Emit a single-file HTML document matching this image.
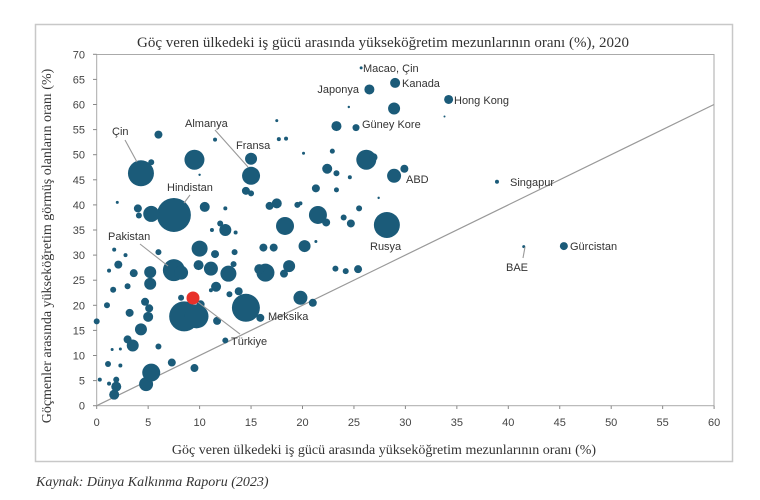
<!DOCTYPE html>
<html><head><meta charset="utf-8"><style>
html,body{margin:0;padding:0;background:#fff}
svg text{font-family:"Liberation Sans",sans-serif}
.s{font-family:"Liberation Serif",serif}
</style></head><body>
<svg id="c" width="760" height="495" xmlns="http://www.w3.org/2000/svg">
<rect x="35.5" y="24.5" width="697" height="437" fill="#fff" stroke="#c8c8c8" stroke-width="1.5"/>
<text class="s" x="383" y="47" text-anchor="middle" font-size="15" fill="#333">Göç veren ülkedeki iş gücü arasında yükseköğretim mezunlarının oranı (%), 2020</text>
<rect x="96.7" y="54.5" width="617.3" height="351.2" fill="none" stroke="#aaa" stroke-width="1"/>
<g id="ticks" font-size="11" fill="#444"></g>
<line x1="96.7" y1="405.7" x2="714" y2="104.5" stroke="#999" stroke-width="1.2"/>
<g id="b" fill="#1b5b79"></g>
<g stroke="#999" stroke-width="1.1">
<line x1="125" y1="140" x2="137" y2="162"/>
<line x1="215" y1="130" x2="248" y2="167"/>
<line x1="190" y1="195" x2="184" y2="203"/>
<line x1="140" y1="244" x2="168" y2="266"/>
<line x1="198" y1="302" x2="240" y2="334"/>
<line x1="523" y1="258" x2="525" y2="247"/>
</g>
<circle cx="193" cy="298" r="6.5" fill="#e8312a"/>
<g font-size="11" fill="#333">
<text x="363" y="72">Macao, Çin</text>
<text x="402" y="87">Kanada</text>
<text x="359" y="93" text-anchor="end">Japonya</text>
<text x="454" y="104">Hong Kong</text>
<text x="362" y="128">Güney Kore</text>
<text x="185" y="127">Almanya</text>
<text x="236" y="149">Fransa</text>
<text x="112" y="135">Çin</text>
<text x="167" y="191">Hindistan</text>
<text x="406" y="183">ABD</text>
<text x="510" y="186">Singapur</text>
<text x="108" y="240">Pakistan</text>
<text x="231" y="345">Türkiye</text>
<text x="268" y="320">Meksika</text>
<text x="370" y="250">Rusya</text>
<text x="506" y="271">BAE</text>
<text x="570" y="250">Gürcistan</text>
</g>
<text class="s" x="384" y="454" text-anchor="middle" font-size="14" fill="#333">Göç veren ülkedeki iş gücü arasında yükseköğretim mezunlarının oranı (%)</text>
<text class="s" transform="translate(51,246) rotate(-90)" text-anchor="middle" font-size="14" fill="#333">Göçmenler arasında yükseköğretim görmüş olanların oranı (%)</text>
<text class="s" x="36" y="486" font-size="14" font-style="italic" fill="#333">Kaynak: Dünya Kalkınma Raporu (2023)</text>
</svg>
<script>
var X=function(x){return 96.7+10.29*x},Y=function(y){return 405.7-5.02*y};
var t='';
for(var i=0;i<=60;i+=5){t+='<text x="'+X(i)+'" y="426" text-anchor="middle">'+i+'</text><line x1="'+X(i)+'" y1="405.7" x2="'+X(i)+'" y2="409" stroke="#888"/>';}
for(var j=0;j<=70;j+=5){t+='<text x="85" y="'+(Y(j)+4)+'" text-anchor="end">'+j+'</text><line x1="93" y1="'+Y(j)+'" x2="96.7" y2="'+Y(j)+'" stroke="#888"/>';}
document.getElementById('ticks').innerHTML=t;
var d=[[4.3,46.3,13],[5.3,48.5,3],[6,54,4],[9.5,49,10],[7.5,38,17],[5.3,38.2,8],[4,39.3,4],[4.1,37.9,3],[2,40.5,1.5],[10.5,39.6,5],[12.5,39.3,2],
[7.5,27,11],[8.2,26.5,7],[8.5,17.8,15],[9.7,17.8,12],[8.2,21.5,3],[10.1,20.2,4],[14.5,19.5,14],[15.9,17.5,4],[4.8,4.3,7],[5.3,6.6,9],
[1.7,2.2,5],[1.9,3.8,5],[1.9,5.2,3],[1.2,4.4,2],[0.3,5.2,2],[2.3,8,2],[1.1,8.3,3],[7.3,8.6,4],[9.5,7.5,4],[3.5,12,6],[3,13.2,4],[4.3,15.2,6],[6,11.8,3],
[3.2,18.5,4],[5,17.7,5],[4.7,20.7,4],[5.1,19.4,4],[0,16.8,3],[1,20,3],[1.6,23.1,3],[3,23.8,3],[5.2,24.3,6],[5.2,26.6,6],[3.6,26.4,4],[2.1,28.1,4],[1.2,26.9,2],[6,30.6,3],[2.8,30,2],[1.7,31.1,2],
[10,31.3,8],[11.5,30.2,4],[13.4,30.6,3],[9.9,28,5],[11.1,27.3,7],[12.8,26.3,8],[13.3,28.2,3],[11.6,23.7,5],[11.1,23,2],[12.9,22.2,3],[13.8,22.8,4],[11.7,16.9,4],[12.5,13,3],
[16.2,31.5,4],[17.2,31.5,4],[20.2,31.8,6],[16.4,26.5,9],[15.8,27.2,5],[18.7,27.8,6],[18.2,26.3,4],[19.8,21.5,7],[21,20.5,4],[23.2,27.3,3],[24.2,26.8,3],[25.4,27.2,4],
[28.2,36,13],[12,36.3,3],[12.5,35,6],[11.2,35,2],[13.5,34.5,2],[18.3,35.8,9],[17.5,40.3,5],[16.8,39.8,4],[19.5,40,3],[21.5,38,9],[22.3,36.5,4],[24,37.5,3],[24.7,36.3,4],[25.5,39.3,3],[21.3,32.7,1.5],
[15,45.8,9],[15,49.2,6],[14.5,42.8,4],[15,42.3,3],[17.5,56.8,1.5],[17.7,53.1,2],[18.4,53.2,2],[20.1,50.3,1.5],[22.4,47.2,5],[23.3,46.3,3],[26.2,49,10],[26.9,49.5,4],[21.3,43.3,4],[23.3,43,2.5],[22.9,50.7,2.5],[23.3,55.7,5],[25.2,55.4,3.5],[24.6,45.5,2],[19.8,40.3,2],
[28.9,59.2,6],[26.5,63,5],[29,64.3,5],[25.7,67.3,1.5],[34.2,61,4.5],[24.5,59.5,1.2],[33.8,57.6,1],[28.9,45.8,7],[29.9,47.2,4],[27.4,41.4,1.2],[38.9,44.6,2],[41.5,31.7,1.5],[45.4,31.8,4],[11.5,53,2],[10,46,1.2],[1.5,11.2,1.5],[2.3,11.3,1.5]];
var h='';d.forEach(function(p){h+='<circle cx="'+X(p[0])+'" cy="'+Y(p[1])+'" r="'+p[2]+'"/>';});
document.getElementById('b').innerHTML=h;
</script>
</body></html>
